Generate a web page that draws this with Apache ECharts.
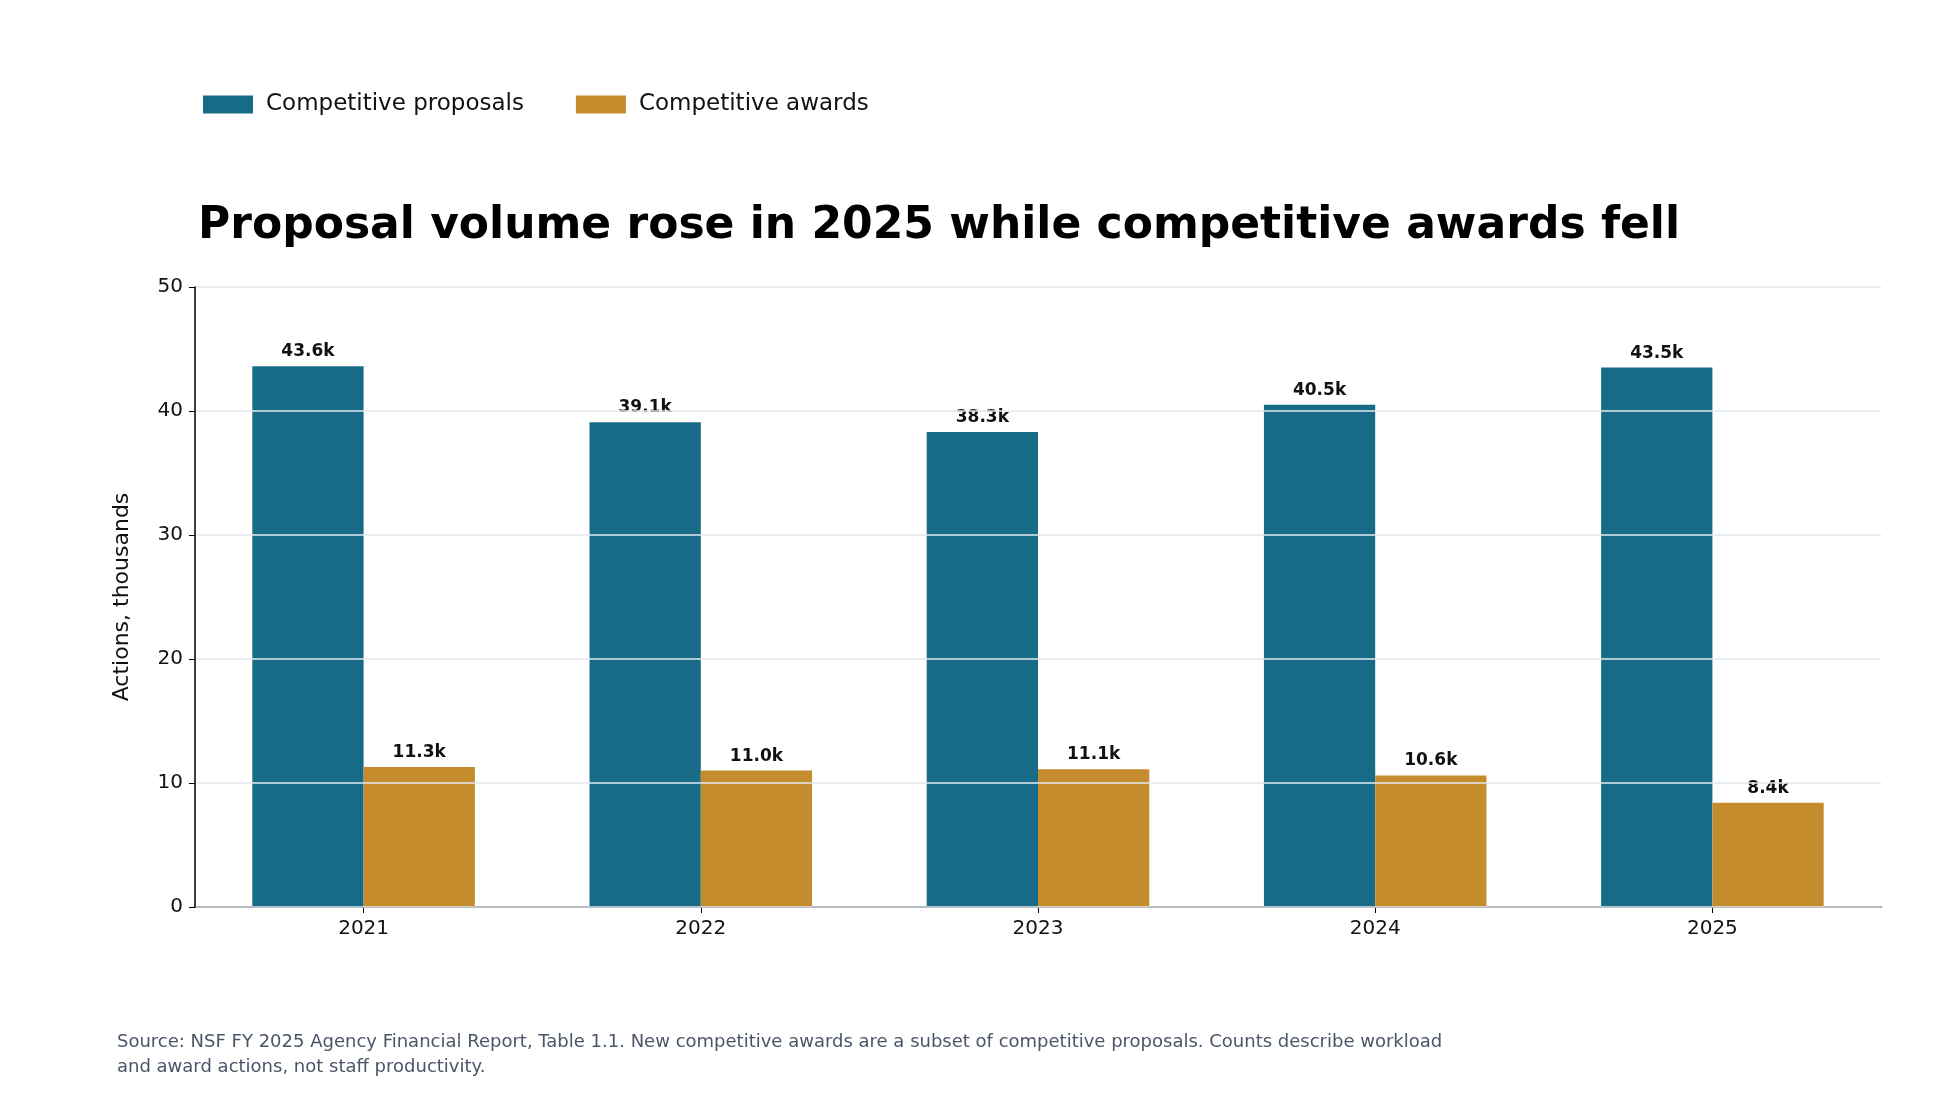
<!DOCTYPE html>
<html>
<head>
<meta charset="utf-8">
<script src="https://cdn.jsdelivr.net/npm/echarts@6/dist/echarts.min.js"></script>
<style>
  html, body { margin: 0; padding: 0; background: #fff; }
  #chart { width: 1944px; height: 1098px; }
</style>
</head>
<body>
<div id="chart"></div>
<script>
// 数据
var years = ['2021', '2022', '2023', '2024', '2025'];
var proposals = [43.6, 39.1, 38.3, 40.5, 43.5];
var awards = [11.3, 11.0, 11.1, 10.6, 8.4];
var yTicks = [0, 10, 20, 30, 40, 50];

var font = 'DejaVu Sans';
var chart = echarts.init(document.getElementById('chart'));

var labelStyle = {
    show: true,
    position: 'top',
    distance: 6,
    fontFamily: font,
    fontWeight: 'bold',
    fontSize: 17,
    color: '#111',
    formatter: function(p) { return p.value.toFixed(1) + 'k'; }
};

chart.setOption({
    backgroundColor: '#fff',
    animation: false,
    title: {
        text: 'Proposal volume rose in 2025 while competitive awards fell',
        left: 193,
        top: 200,
        textStyle: { fontFamily: font, fontWeight: 'bold', fontSize: 44, color: '#000' }
    },
    legend: {
        left: 198,
        top: 88,
        itemWidth: 50,
        itemHeight: 18,
        itemGap: 52,
        icon: 'rect',
        textStyle: { fontFamily: font, fontSize: 23, color: '#111', padding: [0, 0, 0, 8] },
        data: ['Competitive proposals', 'Competitive awards']
    },
    grid: { left: 195, right: 63, top: 287, bottom: 191 },
    xAxis: {
        type: 'category',
        data: years,
        axisLine: { lineStyle: { color: '#000', width: 1.5 } },
        axisTick: { show: true, alignWithLabel: true, length: 6, lineStyle: { color: '#000' } },
        axisLabel: { fontFamily: font, fontSize: 20, color: '#111', margin: 12 }
    },
    yAxis: {
        type: 'value',
        min: yTicks[0],
        max: yTicks[yTicks.length - 1],
        interval: 10,
        z: 3,
        name: 'Actions, thousands',
        nameLocation: 'middle',
        nameGap: 62,
        nameTextStyle: { fontFamily: font, fontSize: 22, color: '#111' },
        axisLine: { show: true, lineStyle: { color: '#000', width: 1.5 } },
        axisTick: { show: true, length: 6, lineStyle: { color: '#000' } },
        axisLabel: { fontFamily: font, fontSize: 20, color: '#111', margin: 12 },
        splitLine: { lineStyle: { color: '#e3e8f0', width: 1.5 } }
    },
    series: [
        {
            name: 'Competitive proposals',
            type: 'bar',
            data: proposals,
            barGap: '0%',
            barCategoryGap: '34%',
            itemStyle: { color: '#176b87' },
            label: labelStyle
        },
        {
            name: 'Competitive awards',
            type: 'bar',
            data: awards,
            itemStyle: { color: '#c48c2c' },
            label: labelStyle
        }
    ],
    graphic: [{
        type: 'text',
        left: 117,
        top: 1030,
        style: {
            text: 'Source: NSF FY 2025 Agency Financial Report, Table 1.1. New competitive awards are a subset of competitive proposals. Counts describe workload\nand award actions, not staff productivity.',
            font: '18px "DejaVu Sans"',
            fill: '#4a5568',
            lineHeight: 25
        }
    }]
});

$ = null;
window.addEventListener('resize', function() { chart.resize(); });
</script>
</body>
</html>
